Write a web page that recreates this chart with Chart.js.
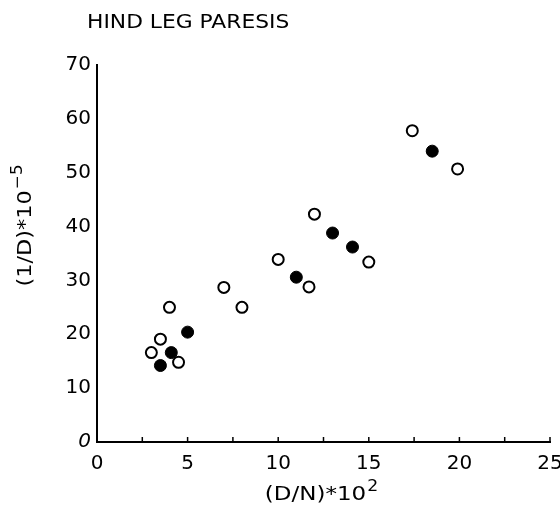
<!DOCTYPE html>
<html>
<head>
<meta charset="utf-8">
<script src="https://cdn.jsdelivr.net/npm/chart.js@4.4.1/dist/chart.umd.min.js"></script>
<style>
  body { margin: 0; background: #fff; }
  canvas { display: block; }
</style>
</head>
<body>
<canvas id="scatterChart" width="560" height="517"></canvas>
<script>
// open circles
var xOpen = [17.4, 19.9, 12.0, 15.0, 10.0, 11.7, 7.0, 8.0, 4.0, 3.5, 3.0, 4.5];
var yOpen = [57.8, 50.7, 42.3, 33.4, 33.9, 28.8, 28.7, 25.0, 25.0, 19.1, 16.6, 14.8];

// filled circles
var xFilled = [18.5, 13.0, 14.1, 11.0, 5.0, 4.1, 3.5];
var yFilled = [54.0, 38.8, 36.2, 30.6, 20.4, 16.6, 14.2];

var xTicks = [0, 2.5, 5, 7.5, 10, 12.5, 15, 17.5, 20, 22.5, 25];
var yTicks = [0, 10, 20, 30, 40, 50, 60, 70];

var FONT = "'DejaVu Sans', sans-serif";

const toPoints = (xs, ys) => xs.map((x, i) => ({ x: x, y: ys[i] }));

// draws "base" followed by a raised, smaller "sup", centred on 0
const drawWithSup = (ctx, base, sup) => {
  ctx.font = '20px ' + FONT;
  var w = ctx.measureText(base).width;
  ctx.font = '15px ' + FONT;
  var w2 = ctx.measureText(sup).width;
  var start = -(w + w2) / 2;
  ctx.font = '20px ' + FONT;
  ctx.fillText(base, start, 0);
  ctx.font = '15px ' + FONT;
  ctx.fillText(sup, start + w + 1, -9);
}

// title, axis titles with superscripts and the small inward x ticks
const decorations = {
  id: 'decorations',
  afterDraw(chart) {
    var ctx = chart.ctx;
    var area = chart.chartArea;
    var xs = chart.scales.x;
    ctx.save();
    ctx.fillStyle = '#000';
    ctx.strokeStyle = '#000';

    // minor ticks pointing up from the x axis
    ctx.lineWidth = 1.5;
    xTicks.forEach(v => {
      if (v === 0) return;
      var px = xs.getPixelForValue(v);
      ctx.beginPath();
      ctx.moveTo(px, area.bottom);
      ctx.lineTo(px, area.bottom - 5);
      ctx.stroke();
    });

    ctx.textBaseline = 'alphabetic';

    // chart title
    ctx.save();
    ctx.translate(87, 28);
    ctx.scale(1.09, 1);
    ctx.font = '20px ' + FONT;
    ctx.textAlign = 'left';
    ctx.fillText('HIND LEG PARESIS', 0, 0);
    ctx.restore();

    // x axis title
    ctx.save();
    ctx.translate(321, 500);
    ctx.scale(1.15, 1);
    drawWithSup(ctx, '(D/N)*10', '2');
    ctx.restore();

    // y axis title
    ctx.save();
    ctx.translate(31, 226);
    ctx.rotate(-Math.PI / 2);
    ctx.scale(1.12, 1);
    drawWithSup(ctx, '(1/D)*10', '\u22125');
    ctx.restore();

    ctx.restore();
  }
};

const scatterPlot = () => {
  var ctx = document.getElementById('scatterChart').getContext('2d');

  new Chart(ctx, {
    type: 'scatter',
    data: {
      datasets: [{
        data: toPoints(xOpen, yOpen),
        pointRadius: 5.5,
        pointBorderWidth: 2,
        pointBackgroundColor: '#fff',
        pointBorderColor: '#000'
      }, {
        data: toPoints(xFilled, yFilled),
        pointRadius: 6,
        pointBorderWidth: 1,
        pointBackgroundColor: '#000',
        pointBorderColor: '#000'
      }]
    },
    options: {
      responsive: false,
      animation: false,
      layout: {
        padding: { top: 65, right: 10, bottom: 35, left: 0 }
      },
      plugins: {
        legend: { display: false },
        title: { display: false },
        tooltip: { enabled: false }
      },
      scales: {
        x: {
          type: 'linear',
          min: 0,
          max: 25,
          afterBuildTicks: s => { s.ticks = xTicks.map(v => ({ value: v })); },
          afterFit: s => { s.height = 40; s.paddingLeft = 0; s.paddingRight = 0; },
          grid: { drawOnChartArea: false, drawTicks: false },
          border: { color: '#000', width: 2 },
          ticks: {
            autoSkip: false,
            maxRotation: 0,
            padding: 10,
            color: '#000',
            font: { family: FONT, size: 20 },
            callback: v => (v % 5 === 0 ? v : '')
          }
        },
        y: {
          min: 0,
          max: 70,
          afterBuildTicks: s => { s.ticks = yTicks.map(v => ({ value: v })); },
          afterFit: s => { s.width = 97; },
          grid: { drawOnChartArea: false, drawTicks: false },
          border: { color: '#000', width: 2 },
          ticks: {
            padding: 6,
            color: '#000',
            font: c => ({
              family: FONT,
              size: 20,
              style: c.tick && c.tick.value === 0 ? 'italic' : 'normal'
            })
          }
        }
      }
    },
    plugins: [decorations]
  });
}

scatterPlot();
</script>
</body>
</html>
